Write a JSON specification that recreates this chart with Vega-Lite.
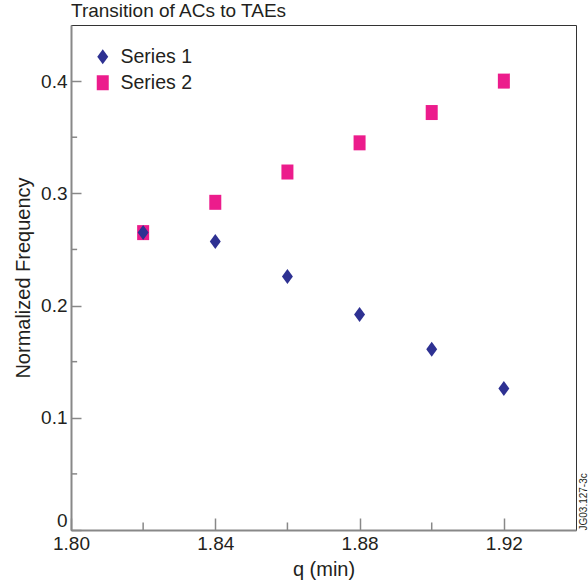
{
  "$schema": "https://vega.github.io/schema/vega-lite/v6.json",
  "autosize": {"type": "none"},
  "padding": {"left": 71, "top": 25, "right": 12, "bottom": 56},
  "width": 505,
  "height": 505,
  "background": "white",
  "config": {
    "font": "Liberation Sans",
    "view": {"stroke": "#333333", "strokeWidth": 1},
    "axis": {"grid": false, "labelColor": "#231f20", "titleColor": "#231f20", "labelFont": "Liberation Sans", "titleFont": "Liberation Sans", "titleFontWeight": "normal"}
  },
  "title": {"text": "Transition of ACs to TAEs", "anchor": "start", "frame": "group", "fontSize": 19, "fontWeight": "normal", "color": "#231f20", "offset": 4, "font": "Liberation Sans"},
  "resolve": {"axis": {"y": "independent"}, "scale": {"y": "shared"}},
  "data": {
    "values": [
      {"q": 1.82, "f": 0.265, "series": "Series 2"},
      {"q": 1.84, "f": 0.292, "series": "Series 2"},
      {"q": 1.86, "f": 0.319, "series": "Series 2"},
      {"q": 1.88, "f": 0.345, "series": "Series 2"},
      {"q": 1.90, "f": 0.372, "series": "Series 2"},
      {"q": 1.92, "f": 0.400, "series": "Series 2"},
      {"q": 1.82, "f": 0.265, "series": "Series 1"},
      {"q": 1.84, "f": 0.257, "series": "Series 1"},
      {"q": 1.86, "f": 0.226, "series": "Series 1"},
      {"q": 1.88, "f": 0.192, "series": "Series 1"},
      {"q": 1.90, "f": 0.161, "series": "Series 1"},
      {"q": 1.92, "f": 0.126, "series": "Series 1"}
    ]
  },
  "layer": [
    {
      "mark": {"type": "point", "filled": true, "opacity": 1, "size": 225},
      "encoding": {
        "x": {"field": "q", "type": "quantitative", "scale": {"domain": [1.80, 1.94], "nice": false, "zero": false},
          "axis": {"title": "q (min)", "values": [1.8, 1.84, 1.88, 1.92], "format": ".2f", "labelFontSize": 19, "titleFontSize": 20, "domainColor": "#888888", "domainWidth": 2, "tickColor": "#888888", "tickWidth": 1.5, "tickSize": -12, "labelPadding": 16, "titlePadding": 6, "labelFlush": false}},
        "y": {"field": "f", "type": "quantitative", "scale": {"domain": [0, 0.45], "nice": false},
          "axis": {"title": "Normalized Frequency", "values": [0, 0.1, 0.2, 0.3, 0.4], "format": "~g", "labelFontSize": 19, "titleFontSize": 20, "domainColor": "#888888", "domainWidth": 2, "tickColor": "#888888", "tickWidth": 1.5, "tickSize": -10, "labelPadding": 14, "titlePadding": 7, "labelFlush": true}},
        "shape": {"field": "series", "type": "nominal", "scale": {"domain": ["Series 1", "Series 2"], "range": ["M0,-1L0.73,0L0,1L-0.73,0Z", "M-0.8,-1H0.8V1H-0.8Z"]}, "legend": null},
        "color": {"field": "series", "type": "nominal", "scale": {"domain": ["Series 1", "Series 2"], "range": ["#2e3192", "#ec1c8c"]},
          "legend": {"title": null, "orient": "top-left", "offset": 22, "labelFontSize": 19.5, "labelColor": "#231f20", "symbolSize": 225, "symbolType": "square", "rowPadding": 5, "labelOffset": 8, "symbolStrokeWidth": 0}}
      }
    },
    {
      "mark": {"type": "point", "opacity": 0},
      "encoding": {
        "x": {"field": "q", "type": "quantitative"},
        "y": {"field": "f", "type": "quantitative",
          "axis": {"orient": "right", "title": "JG03.127-3c", "titleFontSize": 10, "titleAngle": -90, "titleAnchor": "start", "titleAlign": "left", "titleBaseline": "top", "titlePadding": 2, "labels": false, "ticks": false, "domain": false, "titleColor": "#231f20"}}
      }
    },
    {
      "mark": {"type": "rule", "color": "#888888", "strokeWidth": 1.5},
      "data": {"values": [{"q": 1.82}, {"q": 1.86}, {"q": 1.90}]},
      "encoding": {
        "x": {"field": "q", "type": "quantitative"},
        "y": {"datum": 0, "axis": null},
        "y2": {"datum": 0.0067}
      }
    },
    {
      "mark": {"type": "rule", "color": "#888888", "strokeWidth": 1.5},
      "data": {"values": [{"f": 0.05}, {"f": 0.15}, {"f": 0.25}, {"f": 0.35}]},
      "encoding": {
        "y": {"field": "f", "type": "quantitative", "axis": null},
        "x": {"datum": 1.80},
        "x2": {"datum": 1.8017}
      }
    }
  ]
}
